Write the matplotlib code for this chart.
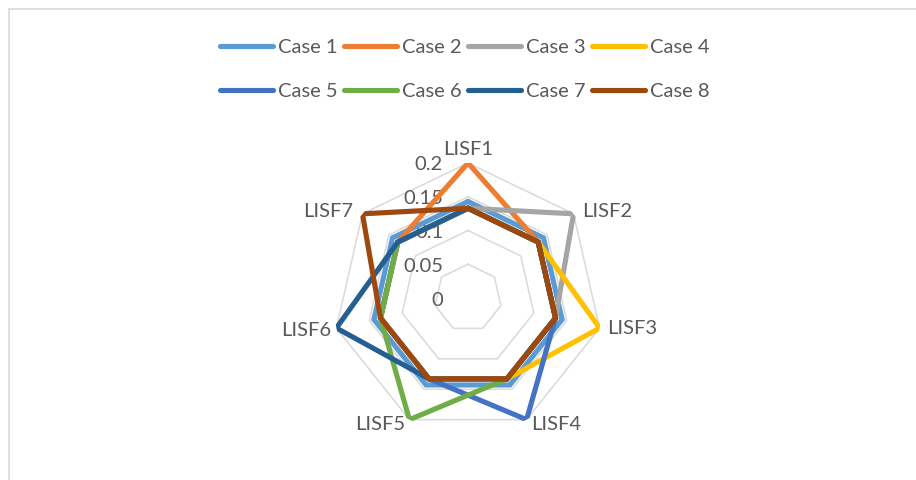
import matplotlib
matplotlib.use("Agg")
import matplotlib.pyplot as plt
import matplotlib.transforms as mtransforms
from matplotlib.patches import Rectangle
import numpy as np

plt.rcParams['font.family'] = ['Lato', 'DejaVu Sans']

categories = ['LISF1', 'LISF2', 'LISF3', 'LISF4', 'LISF5', 'LISF6', 'LISF7']
case_names = ['Case 1', 'Case 2', 'Case 3', 'Case 4',
              'Case 5', 'Case 6', 'Case 7', 'Case 8']
case1 = [0.143, 0.143, 0.143, 0.143, 0.143, 0.143, 0.143]
case2 = [0.200, 0.133, 0.133, 0.133, 0.133, 0.133, 0.133]
case3 = [0.133, 0.200, 0.133, 0.133, 0.133, 0.133, 0.133]
case4 = [0.133, 0.133, 0.200, 0.133, 0.133, 0.133, 0.133]
case5 = [0.133, 0.133, 0.133, 0.200, 0.133, 0.133, 0.133]
case6 = [0.133, 0.133, 0.133, 0.133, 0.200, 0.133, 0.133]
case7 = [0.133, 0.133, 0.133, 0.133, 0.133, 0.200, 0.133]
case8 = [0.133, 0.133, 0.133, 0.133, 0.133, 0.133, 0.200]
r_ticks = [0, 0.05, 0.1, 0.15, 0.2]
r_tick_labels = ['0', '0.05', '0.1', '0.15', '0.2']

series = [case1, case2, case3, case4, case5, case6, case7, case8]
colors = ['#5B9BD5', '#ED7D31', '#A5A5A5', '#FFC000',
          '#4472C4', '#70AD47', '#255E91', '#9E480E']
text_color = '#595959'
grid_color = '#D9D9D9'
fs = 14.5

W, H = 916, 480
fig = plt.figure(figsize=(W / 100, H / 100), dpi=100)

# outer chart border
fig.patches.append(Rectangle((8.5 / W, -0.1), 1.2, 1 - 8.5 / H + 0.1,
                             transform=fig.transFigure, fill=False,
                             edgecolor=grid_color, linewidth=1.2))

cx, cy, R = 468, 298, 135
ax = fig.add_axes([(cx - R) / W, (H - cy - R) / H, 2 * R / W, 2 * R / H],
                  projection='polar')
ax.set_theta_zero_location('N')
ax.set_theta_direction(-1)
ax.set_ylim(0, 0.2)
ax.grid(False)
ax.spines['polar'].set_visible(False)
ax.set_xticks([])
ax.set_yticks([])
ax.patch.set_alpha(0)

n = len(categories)
angles = np.linspace(0, 2 * np.pi, n, endpoint=False)
closed = np.append(angles, angles[0])

# heptagon grid rings
for r in r_ticks[1:]:
    ax.plot(closed, [r] * (n + 1), color=grid_color, linewidth=1.1, zorder=1)

lines = []
for name, vals, col in zip(case_names, series, colors):
    ln, = ax.plot(closed, list(vals) + [vals[0]], color=col, linewidth=3.7,
                  solid_capstyle='round', solid_joinstyle='miter',
                  label=name, zorder=3)
    lines.append(ln)

# radial value labels along the first axis
off = mtransforms.ScaledTranslation(-25 / 100, -2 / 100, fig.dpi_scale_trans)
for r, lab in zip(r_ticks, r_tick_labels):
    ax.text(0, r, lab, transform=ax.transData + off, ha='right', va='center',
            fontsize=fs, color=text_color, zorder=2)

# category labels around the outside
label_pos = [
    ('center', 'bottom', 0, 5),
    ('left', 'center', 9, 2),
    ('left', 'center', 8, 0),
    ('left', 'center', 5, -5),
    ('right', 'center', -4, -5),
    ('right', 'center', -5, -2),
    ('right', 'center', -9, 2),
]
for ang, lab, (ha, va, dx, dy) in zip(angles, categories, label_pos):
    t = ax.transData + mtransforms.ScaledTranslation(dx / 100, dy / 100,
                                                     fig.dpi_scale_trans)
    ax.text(ang, 0.2, lab, transform=t, ha=ha, va=va, fontsize=fs,
            color=text_color)

# legend filled column by column, so interleave to read row by row
order = [0, 4, 1, 5, 2, 6, 3, 7]
leg = fig.legend(handles=[lines[i] for i in order], loc='center', ncol=4,
                 bbox_to_anchor=(465 / W, 1 - 69.5 / H), frameon=False,
                 fontsize=fs, handlelength=2.65, handletextpad=0.25,
                 columnspacing=0.3, labelspacing=1.35)
for t in leg.get_texts():
    t.set_color(text_color)

fig.savefig('out.png', dpi=100)
